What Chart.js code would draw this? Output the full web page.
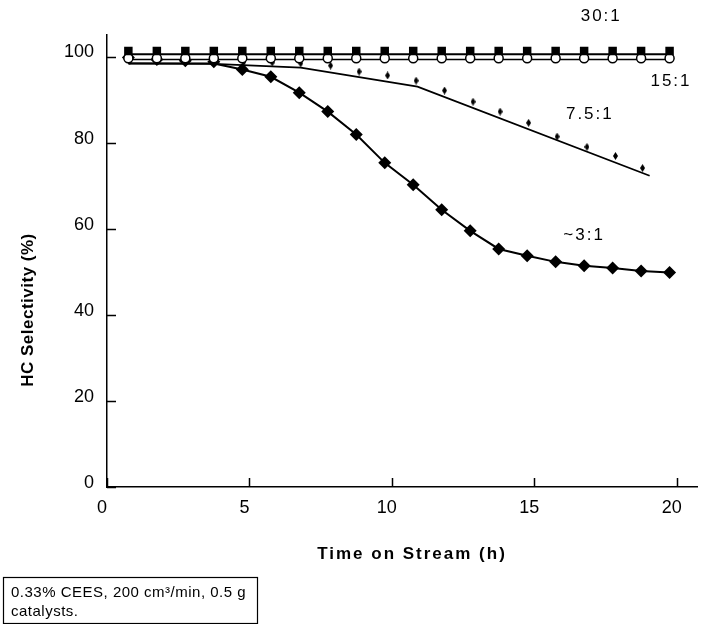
<!DOCTYPE html>
<html><head><meta charset="utf-8">
<script src="https://cdn.jsdelivr.net/npm/chart.js@4.4.1/dist/chart.umd.min.js"></script>
<style>html,body{margin:0;padding:0;background:#fff;overflow:hidden}canvas{display:block}</style>
</head><body>
<canvas id="c" width="704" height="624"></canvas>
<script>
// ---- data ----
const hours   = [0.75, 1.75, 2.75, 3.75, 4.75, 5.75, 6.75, 7.75, 8.75, 9.75, 10.75, 11.75, 12.75, 13.75, 14.75, 15.75, 16.75, 17.75, 18.75, 19.75];
const sel30   = [101.3, 101.3, 101.3, 101.3, 101.3, 101.3, 101.3, 101.3, 101.3, 101.3, 101.3, 101.3, 101.3, 101.3, 101.3, 101.3, 101.3, 101.3, 101.3, 101.3];
const sel15   = [99.6, 99.6, 99.6, 99.6, 99.6, 99.6, 99.6, 99.6, 99.6, 99.6, 99.6, 99.6, 99.6, 99.6, 99.6, 99.6, 99.6, 99.6, 99.6, 99.6];
const hours75 = [0.8, 1.8, 2.8, 3.8, 4.8, 5.8, 6.8, 7.85, 8.85, 9.85, 10.85, 11.85, 12.85, 13.8, 14.8, 15.8, 16.85, 17.85, 18.8];
const sel75   = [99.0, 99.0, 98.9, 98.8, 98.7, 98.6, 98.4, 97.9, 96.5, 95.6, 94.4, 92.1, 89.5, 87.2, 84.6, 81.4, 79.0, 76.9, 74.1];
const sel3    = [99.8, 99.3, 99.0, 98.8, 97.0, 95.3, 91.6, 87.2, 81.9, 75.3, 70.2, 64.4, 59.5, 55.3, 53.7, 52.3, 51.4, 50.9, 50.2, 49.8];
// fitted lines
const fitHours30 = [0.75, 19.75];
const fit30      = [100.5, 100.5];
const fitHours15 = [0.75, 19.75];
const fit15      = [99.3, 99.3];
const fitHours75 = [0.75, 3.75, 6.8, 10.9, 19.05];
const fit75      = [98.4, 98.3, 97.4, 93.0, 72.3];
const fitHours3  = [0.75, 3.75, 4.75, 5.75, 6.75, 7.75, 8.75, 9.75, 10.75, 11.75, 12.75, 13.75, 14.75, 15.75, 16.75, 17.75, 18.75, 19.75];
const fit3       = [98.4, 98.4, 97.0, 95.3, 91.6, 87.2, 81.9, 75.3, 70.2, 64.4, 59.5, 55.3, 53.7, 52.3, 51.4, 50.9, 50.2, 49.8];
// ticks & text
const xTicks = [0, 5, 10, 15, 20];
const yTicks = [0, 20, 40, 60, 80, 100];
const xTitle = 'Time on Stream (h)';
const yTitle = 'HC Selectivity (%)';
const seriesLabels = [
  {text: '30:1',  x: 17.35, y: 109.3},
  {text: '15:1',  x: 19.8,  y: 94.3},
  {text: '7.5:1', x: 16.95, y: 86.5},
  {text: '~3:1',  x: 16.75, y: 58.4}
];
const noteLines = ['0.33% CEES, 200 cm\u00B3/min, 0.5 g', 'catalysts.'];

const pts = (xs, ys) => xs.map((v, i) => ({x: v, y: ys[i]}));

// small narrow diamond marker for the 7.5:1 series
const smallDiamond = (() => {
  const c = document.createElement('canvas'); c.width = 5; c.height = 8;
  const g = c.getContext('2d'); g.fillStyle = '#000';
  g.beginPath(); g.moveTo(2.5, 0); g.lineTo(5, 4); g.lineTo(2.5, 8); g.lineTo(0, 4); g.closePath(); g.fill();
  return c;
})();

const FONT = '"Liberation Sans", Arial, sans-serif';

const decor = {
  id: 'decor',
  afterDraw(chart) {
    const {ctx, chartArea: a, scales: {x, y}} = chart;
    ctx.save();
    ctx.strokeStyle = '#000'; ctx.lineWidth = 1.5;
    ctx.beginPath();
    xTicks.forEach(v => { const px = Math.round(x.getPixelForValue(v)) + 0.5; ctx.moveTo(px, a.bottom); ctx.lineTo(px, a.bottom - 9); });
    yTicks.forEach(v => { const py = Math.round(y.getPixelForValue(v)) + 0.5; ctx.moveTo(a.left, py); ctx.lineTo(a.left + 9, py); });
    ctx.stroke();

    ctx.fillStyle = '#000';
    ctx.textBaseline = 'middle'; ctx.textAlign = 'center';
    // x title
    ctx.font = 'bold 17px ' + FONT; ctx.letterSpacing = '2px';
    ctx.fillText(xTitle, 412, 554);
    // y title
    ctx.save();
    ctx.translate(28, 310); ctx.rotate(-Math.PI / 2);
    ctx.font = 'bold 17px ' + FONT; ctx.letterSpacing = '0.5px';
    ctx.fillText(yTitle, 0, 0);
    ctx.restore();
    // series labels
    ctx.font = '17px ' + FONT; ctx.letterSpacing = '2px';
    seriesLabels.forEach(l => ctx.fillText(l.text, x.getPixelForValue(l.x), y.getPixelForValue(l.y)));
    // note box
    ctx.letterSpacing = '0.5px';
    ctx.lineWidth = 1.2;
    ctx.strokeRect(3.5, 577.5, 254, 46);
    ctx.font = '15px ' + FONT; ctx.textAlign = 'left'; ctx.textBaseline = 'alphabetic';
    ctx.fillText(noteLines[0], 11, 597);
    ctx.fillText(noteLines[1], 11, 616);
    ctx.restore();
  }
};

const canvas = document.getElementById('c');
const c2d = canvas.getContext('2d');
c2d.letterSpacing = '2.2px';

new Chart(canvas, {
  type: 'scatter',
  data: {
    datasets: [
      {label: '30:1', data: pts(hours, sel30), pointStyle: 'rect', pointRadius: 6, backgroundColor: '#000', borderColor: '#000', borderWidth: 0, showLine: false},
      {label: '15:1', data: pts(hours, sel15), pointStyle: 'circle', pointRadius: 4.5, backgroundColor: '#fff', borderColor: '#000', borderWidth: 1.5, showLine: false},
      {label: '~3:1', data: pts(hours, sel3), pointStyle: 'rectRot', pointRadius: 6.5, backgroundColor: '#000', borderColor: '#000', borderWidth: 0, showLine: false},
      {label: '7.5:1', data: pts(hours75, sel75), pointStyle: smallDiamond, pointRadius: 4, backgroundColor: '#000', borderColor: '#000', showLine: false},
      {label: 'fit30', data: pts(fitHours30, fit30), showLine: true, pointRadius: 0, borderColor: '#000', borderWidth: 2},
      {label: 'fit15', data: pts(fitHours15, fit15), showLine: true, pointRadius: 0, borderColor: '#000', borderWidth: 1.5},
      {label: 'fit75', data: pts(fitHours75, fit75), showLine: true, pointRadius: 0, borderColor: '#000', borderWidth: 1.8},
      {label: 'fit3',  data: pts(fitHours3, fit3), showLine: true, pointRadius: 0, borderColor: '#000', borderWidth: 2}
    ]
  },
  options: {
    responsive: false,
    animation: false,
    events: [],
    layout: {padding: {top: 35, right: 0, left: 0, bottom: 0}},
    plugins: {legend: {display: false}, tooltip: {enabled: false}},
    scales: {
      x: {
        type: 'linear', min: 0, max: 20.73,
        afterBuildTicks: s => { s.ticks = xTicks.map(v => ({value: v})); },
        afterFit: s => { s.height = 137; },
        grid: {display: true, drawOnChartArea: false, drawTicks: false},
        border: {display: true, color: '#000', width: 1.5},
        ticks: {color: '#000', font: {family: FONT, size: 18}, padding: 10, labelOffset: -5, maxRotation: 0, autoSkip: false}
      },
      y: {
        type: 'linear', min: 0, max: 105,
        afterBuildTicks: s => { s.ticks = yTicks.map(v => ({value: v})); },
        afterFit: s => { s.width = 107; },
        grid: {display: true, drawOnChartArea: false, drawTicks: false},
        border: {display: true, color: '#000', width: 1.5},
        ticks: {color: '#000', font: {family: FONT, size: 18}, padding: 13, labelOffset: -4, autoSkip: false}
      }
    }
  },
  plugins: [decor]
});
</script>
</body></html>
